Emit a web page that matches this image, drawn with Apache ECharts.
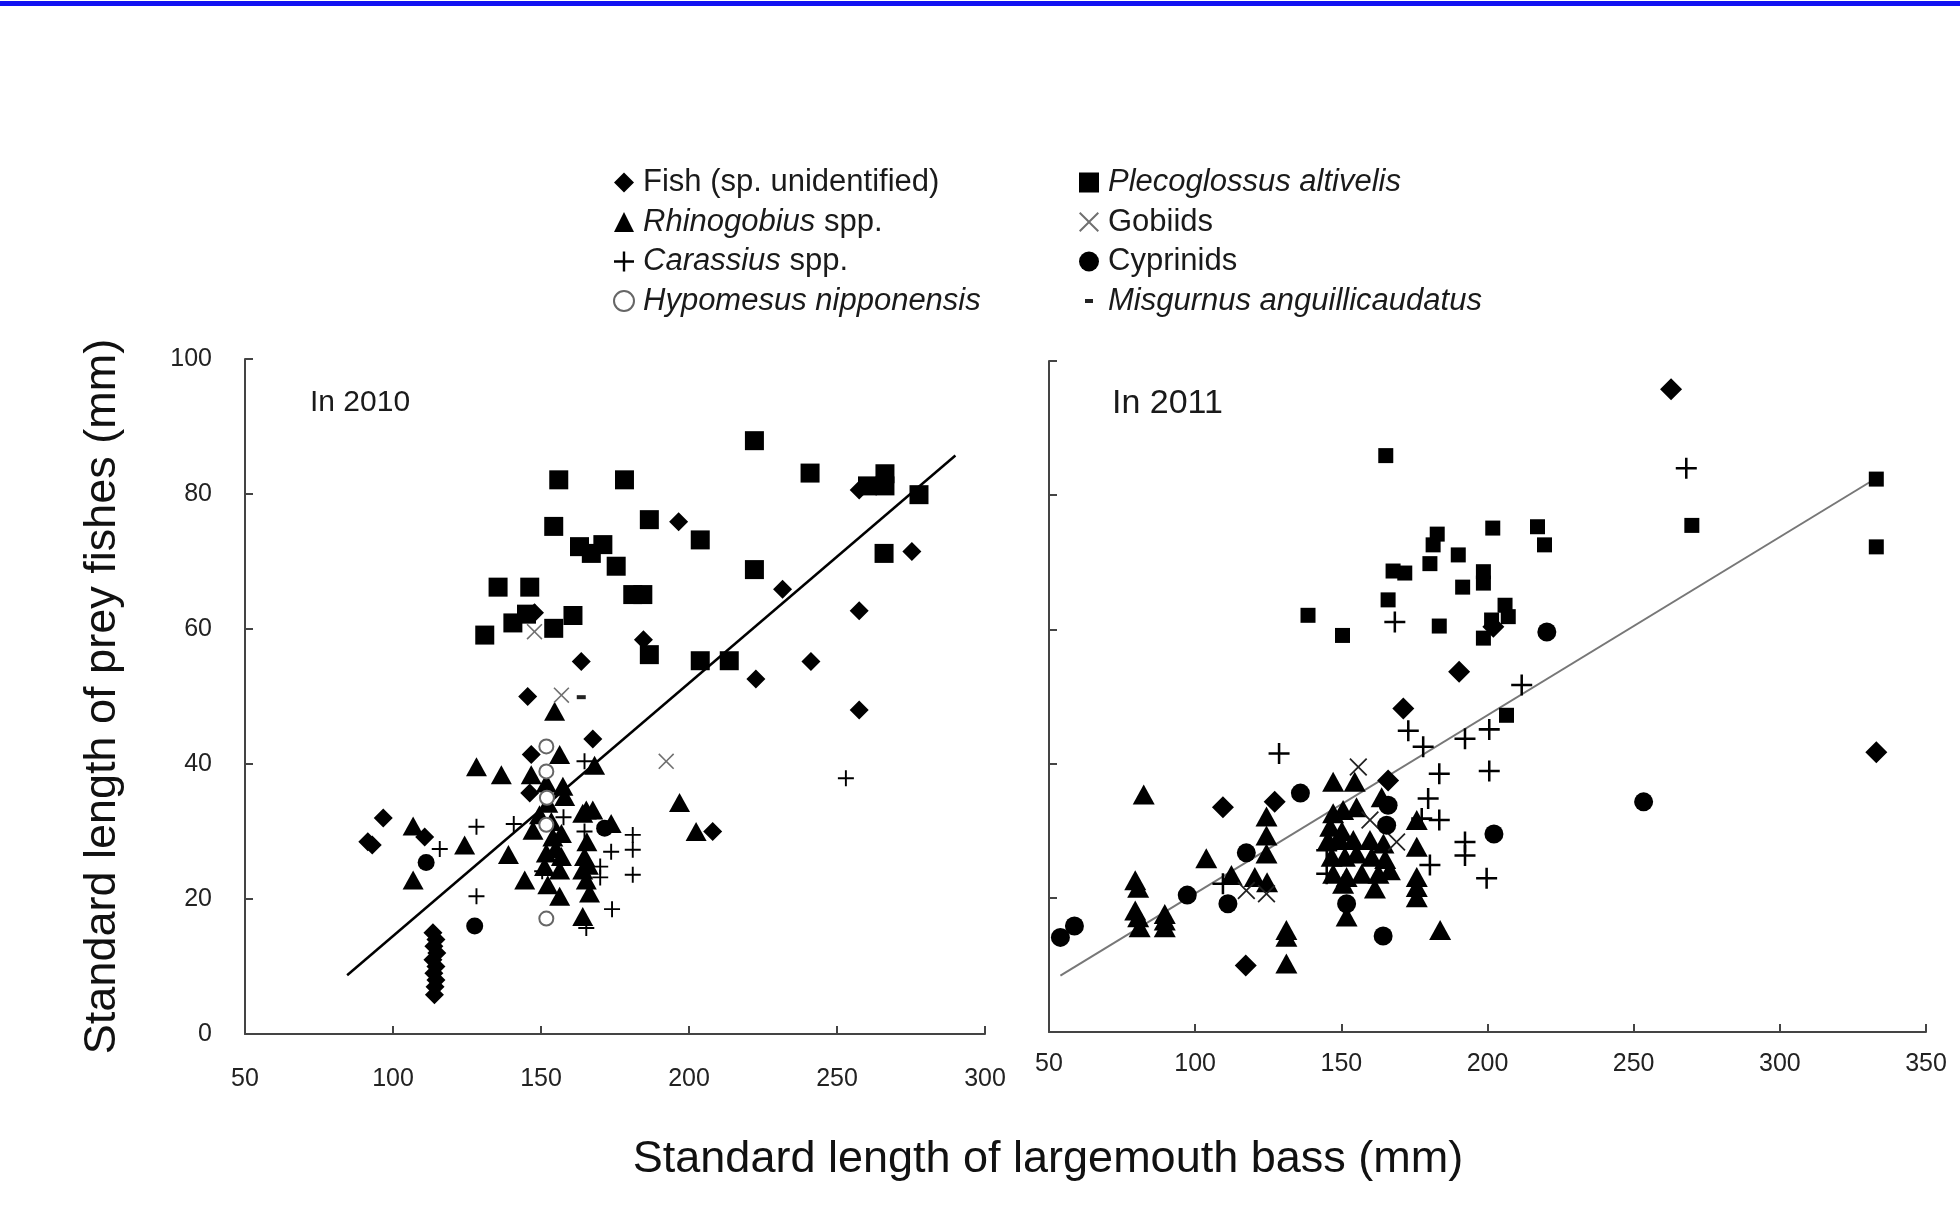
<!DOCTYPE html>
<html>
<head>
<meta charset="utf-8">
<script src="https://cdn.jsdelivr.net/npm/echarts@6/dist/echarts.min.js"></script>
<style>
  html, body { margin: 0; padding: 0; background: #fff; }
  #chart { width: 1960px; height: 1215px; }
</style>
</head>
<body>
<div id="chart"></div>
<script>
// ---- 2010 panel (bass length, prey length) ----
const fish2010 = [[91.5,28.5],[93,28],[96.7,32.0],[110.7,29.2],
  [113.5,15],[114.5,14],[113.8,13],[114.8,12],[113.5,11],[114.5,10],[113.8,9],[114.5,8],[114.2,7],[114,5.8],
  [146.2,35.7],[146.7,41.4],[145.5,50],[147.8,62.4],[163.6,55.2],[167.5,43.7],[184.6,58.4],[196.5,75.9],
  [208,30],[222.6,52.6],[231.6,65.9],[241.2,55.2],[257.5,48],[257.5,62.7],[257.5,80.6],[275.3,71.5]];
const rhino2010 = [[106.8,30.8],[106.8,22.8],[124.2,28.0],[128.2,39.6],[136.6,38.4],[139,26.6],[144.5,22.8],
  [146.7,38.4],[147.3,30.2],[151.8,37.2],[152.3,34.2],[154.6,47.8],[154,29.2],[151.8,26.8],[151.2,24.8],
  [152.3,22.1],[156.3,41.4],[157.4,36.7],[158,35.2],[156.9,29.7],[156.9,26.3],[156.3,24.3],[156.3,20.4],
  [153.5,31.5],[155,27.5],[149.5,32.5],[164.1,32.7],[165.3,33.2],[167.5,33.2],[168.1,39.8],[164.7,26.3],
  [164.1,24.3],[165.3,22.8],[166.4,20.9],[164.1,17.4],[165.5,28.5],[166,25],[173.7,31.2],[196.8,34.3],[202.4,30.0]];
const carassius2010 = [[115.8,27.4],[128.2,30.7],[128.2,20.4],[140.8,31.1],[150.4,24.1],[157.6,32.1],[164.7,40.4],
  [164.7,30.0],[165.3,15.7],[170,24.8],[170,23.2],[173.7,27.0],[174,18.5],[181,29.5],[181,27.3],[181,23.6],[253,37.9]];
const hypomesus2010 = [[151.8,42.6],[151.8,38.9],[152,35],[151.8,31],[151.8,17.1]];
const pleco2010 = [[131,59.1],[135.5,66.2],[140.5,60.9],[145.1,62.2],[146.2,66.2],[154.3,60.1],[156,82.1],[154.3,75.2],
  [160.8,62.0],[163,72.2],[167,71.2],[170.9,72.5],[175.4,69.3],[178.2,82.1],[181,65.1],[184.4,65.1],[186.6,76.2],
  [186.6,56.2],[203.8,73.2],[203.8,55.3],[213.6,55.3],[222.1,87.9],[222.1,68.8],[240.9,83.1],[260.3,81.2],
  [266.2,83.0],[266.2,81.2],[265.9,71.2],[277.7,79.9]];
const gobiids2010 = [[147.8,59.6],[156.9,50.2],[192.3,40.4]];
const cyprinids2010 = [[111.2,25.4],[127.6,16.0],[171.5,30.5]];
const misgurnus2010 = [[163.6,49.9]];
const fit2010 = [[84.5,8.7],[290,85.7]];

// ---- 2011 panel ----
const fish2011 = [[109.5,33.5],[117.3,9.9],[127.2,34.3],[166,37.5],[171.2,48.2],[190.3,53.7],[202,60.4],[262.8,95.8],[333,41.7]];
const rhino2011 = [[79.5,22.6],[80.5,21.5],[79.5,18.1],[80.5,17.1],[81,15.6],[82.4,35.4],[89.6,17.6],[89.6,16.6],
  [89.6,15.6],[103.8,25.9],[112.4,23.4],[120.4,23.1],[124.6,22.3],[124.4,26.6],[124.4,29.3],[124.4,32.1],
  [131.2,15.2],[131.2,14.2],[131.2,10.2],[147.2,37.3],[154.6,37.3],[163.8,35.0],[147.2,32.6],[150.6,33.1],
  [155.2,33.5],[146.2,30.6],[150.2,29.9],[145.5,28.6],[149.5,28.6],[154.1,28.6],[159.8,28.6],[164.4,28.1],
  [146.7,26.1],[151.2,26.1],[155.2,26.6],[160.4,26.1],[165,25.8],[147.2,23.6],[151.8,23.1],[157,23.6],
  [162.7,23.6],[166.6,24.1],[150.6,22.1],[161.5,21.4],[151.8,17.2],[175.8,31.6],[175.8,27.6],[175.8,23.1],
  [175.8,21.6],[175.8,20.1],[183.8,15.2]];
const carassius2011 = [[109.5,22.1],[128.7,41.5],[145,27.1],[145,23.6],[168.3,61.1],[172.9,44.9],[178,42.5],
  [183.5,38.5],[179.7,34.8],[177.5,31.8],[183.5,31.6],[180.3,24.9],[192.3,43.7],[192.3,28.3],[192.3,26.3],
  [200.6,45.1],[200.6,38.9],[199.7,22.9],[211.7,51.7],[268,84]];
const pleco2011 = [[138.6,62.1],[150.4,59.1],[165.2,85.9],[166,64.4],[167.7,68.7],[171.7,68.4],[180.3,69.8],
  [181.4,72.6],[182.8,74.2],[183.5,60.5],[190,71.1],[191.5,66.3],[198.6,68.6],[198.6,66.9],[198.6,58.7],
  [201.4,61.4],[201.8,75.1],[206,63.6],[207.1,61.9],[206.5,47.2],[217.1,75.3],[219.5,72.6],[269.9,75.5],
  [333,82.4],[333,72.3]];
const gobiids2011 = [[117.5,21.1],[124.4,20.6],[155.8,39.5],[159.8,31.6],[168.9,28.3]];
const cyprinids2011 = [[53.9,14.1],[58.7,15.8],[97.3,20.4],[111.2,19.1],[117.5,26.7],[136,35.6],[151.8,19.1],
  [164.3,14.3],[166,33.8],[165.5,30.8],[202.2,29.5],[220.3,59.6],[253.4,34.3]];
const fit2011 = [[53.9,8.4],[332.1,82.3]];

const leftNames = ['Fish (sp. unidentified)', 'Rhinogobius spp.', 'Carassius spp.', 'Hypomesus nipponensis'];
const rightNames = ['Plecoglossus altivelis', 'Gobiids', 'Cyprinids', 'Misgurnus anguillicaudatus'];
const richLabels = {
  'Fish (sp. unidentified)': 'Fish (sp. unidentified)',
  'Rhinogobius spp.': '{i|Rhinogobius} spp.',
  'Carassius spp.': '{i|Carassius} spp.',
  'Hypomesus nipponensis': '{i|Hypomesus nipponensis}',
  'Plecoglossus altivelis': '{i|Plecoglossus altivelis}',
  'Gobiids': 'Gobiids',
  'Cyprinids': 'Cyprinids',
  'Misgurnus anguillicaudatus': '{i|Misgurnus anguillicaudatus}'
};

const FONT = '"Liberation Sans", Arial, Helvetica, sans-serif';
const PLUS = 'path://M8.8,0H11.2V8.8H20V11.2H11.2V20H8.8V11.2H0V8.8H8.8Z';
const CROSS = 'path://M0,1.4L1.4,0L10,8.6L18.6,0L20,1.4L11.4,10L20,18.6L18.6,20L10,11.4L1.4,20L0,18.6L8.6,10Z';
const DASH = 'path://M0,0H10V4H0Z';
const DASH_ICON = 'path://M0,0L0,0ZM6,8H14V12H6ZM20,20L20,20Z';

function scatter(name, data, panel, symbol, size, color) {
  return {
    type: 'scatter', name: name, data: data,
    xAxisIndex: panel, yAxisIndex: panel,
    symbol: symbol, symbolSize: size,
    itemStyle: { color: color, opacity: 1, borderWidth: symbol === 'emptyCircle' ? 1.8 : 0 },
    emphasis: { disabled: true }, z: 3
  };
}
function fitLine(data, panel, color, width) {
  return {
    type: 'line', data: data, xAxisIndex: panel, yAxisIndex: panel,
    symbol: 'none', silent: true, z: 2,
    lineStyle: { color: color, width: width }
  };
}

const axisLine = { show: true, onZero: false, lineStyle: { color: '#444', width: 2 } };
const axisTick = { show: true, inside: true, length: 8, lineStyle: { color: '#444', width: 2 } };
const labelStyle = { fontSize: 25, color: '#222', fontFamily: FONT };

function legendCol(names, left) {
  return {
    data: names.map(n => n === 'Misgurnus anguillicaudatus' ? { name: n, icon: DASH_ICON } : n),
    orient: 'vertical', left: left, top: 162,
    itemWidth: 20, itemHeight: 20, itemGap: 8.5,
    selectedMode: false,
    formatter: n => '{s|}' + richLabels[n],
    textStyle: {
      fontSize: 31, lineHeight: 31, color: '#1a1a1a', fontFamily: FONT,
      rich: {
        s: { width: 4 },
        i: { fontStyle: 'italic', fontSize: 31, lineHeight: 31, color: '#1a1a1a', fontFamily: FONT }
      }
    }
  };
}

const chart = echarts.init(document.getElementById('chart'));
chart.setOption({
  animation: false,
  backgroundColor: '#ffffff',
  grid: [
    { left: 245, top: 359, width: 740, height: 675 },
    { left: 1049, top: 361, width: 877, height: 671 }
  ],
  xAxis: [
    { type: 'value', gridIndex: 0, min: 50, max: 300, interval: 50, axisLine, axisTick,
      splitLine: { show: false }, axisLabel: Object.assign({ margin: 33 }, labelStyle) },
    { type: 'value', gridIndex: 1, min: 50, max: 350, interval: 50, axisLine, axisTick,
      splitLine: { show: false }, axisLabel: Object.assign({ margin: 20 }, labelStyle) }
  ],
  yAxis: [
    { type: 'value', gridIndex: 0, min: 0, max: 100, interval: 20, axisLine, axisTick,
      splitLine: { show: false }, axisLabel: Object.assign({ margin: 33 }, labelStyle),
      name: 'Standard length of prey fishes (mm)', nameLocation: 'middle', nameGap: 120, nameRotate: 90,
      nameTextStyle: { fontSize: 45, color: '#111', fontFamily: FONT } },
    { type: 'value', gridIndex: 1, min: 0, max: 100, interval: 20, axisLine, axisTick,
      splitLine: { show: false }, axisLabel: { show: false } }
  ],
  legend: [legendCol(leftNames, 608), legendCol(rightNames, 1074)],
  series: [
    fitLine(fit2010, 0, '#000', 2.5),
    fitLine(fit2011, 1, '#777', 2),
    scatter('Plecoglossus altivelis', pleco2010, 0, 'rect', 19, '#000'),
    scatter('Fish (sp. unidentified)', fish2010, 0, 'diamond', 19, '#000'),
    scatter('Rhinogobius spp.', rhino2010, 0, 'triangle', [21, 19], '#000'),
    scatter('Carassius spp.', carassius2010, 0, PLUS, 16, '#000'),
    scatter('Hypomesus nipponensis', hypomesus2010, 0, 'emptyCircle', 14, '#666'),
    scatter('Gobiids', gobiids2010, 0, CROSS, 16, '#707070'),
    scatter('Cyprinids', cyprinids2010, 0, 'circle', 17, '#000'),
    scatter('Misgurnus anguillicaudatus', misgurnus2010, 0, DASH, [9, 4], '#222'),
    scatter('Plecoglossus altivelis', pleco2011, 1, 'rect', 15, '#000'),
    scatter('Fish (sp. unidentified)', fish2011, 1, 'diamond', 22, '#000'),
    scatter('Rhinogobius spp.', rhino2011, 1, 'triangle', [22, 20], '#000'),
    scatter('Carassius spp.', carassius2011, 1, PLUS, 21, '#000'),
    scatter('Gobiids', gobiids2011, 1, CROSS, 18, '#222'),
    scatter('Cyprinids', cyprinids2011, 1, 'circle', 19, '#000')
  ],
  graphic: [
    { type: 'rect', left: 0, top: 1, shape: { width: 1960, height: 5 }, style: { fill: '#1212f2' } },
    { type: 'text', left: 310, top: 388, style: { text: 'In 2010', font: '30px ' + FONT, fill: '#1a1a1a' } },
    { type: 'text', left: 1112, top: 387, style: { text: 'In 2011', font: '34px ' + FONT, fill: '#1a1a1a' } },
    { type: 'text', x: 1048, y: 1160,
      style: { text: 'Standard length of largemouth bass (mm)', font: '45px ' + FONT, fill: '#111',
        align: 'center', verticalAlign: 'middle', textAlign: 'center', textVerticalAlign: 'middle' } }
  ]
});
</script>
</body>
</html>
